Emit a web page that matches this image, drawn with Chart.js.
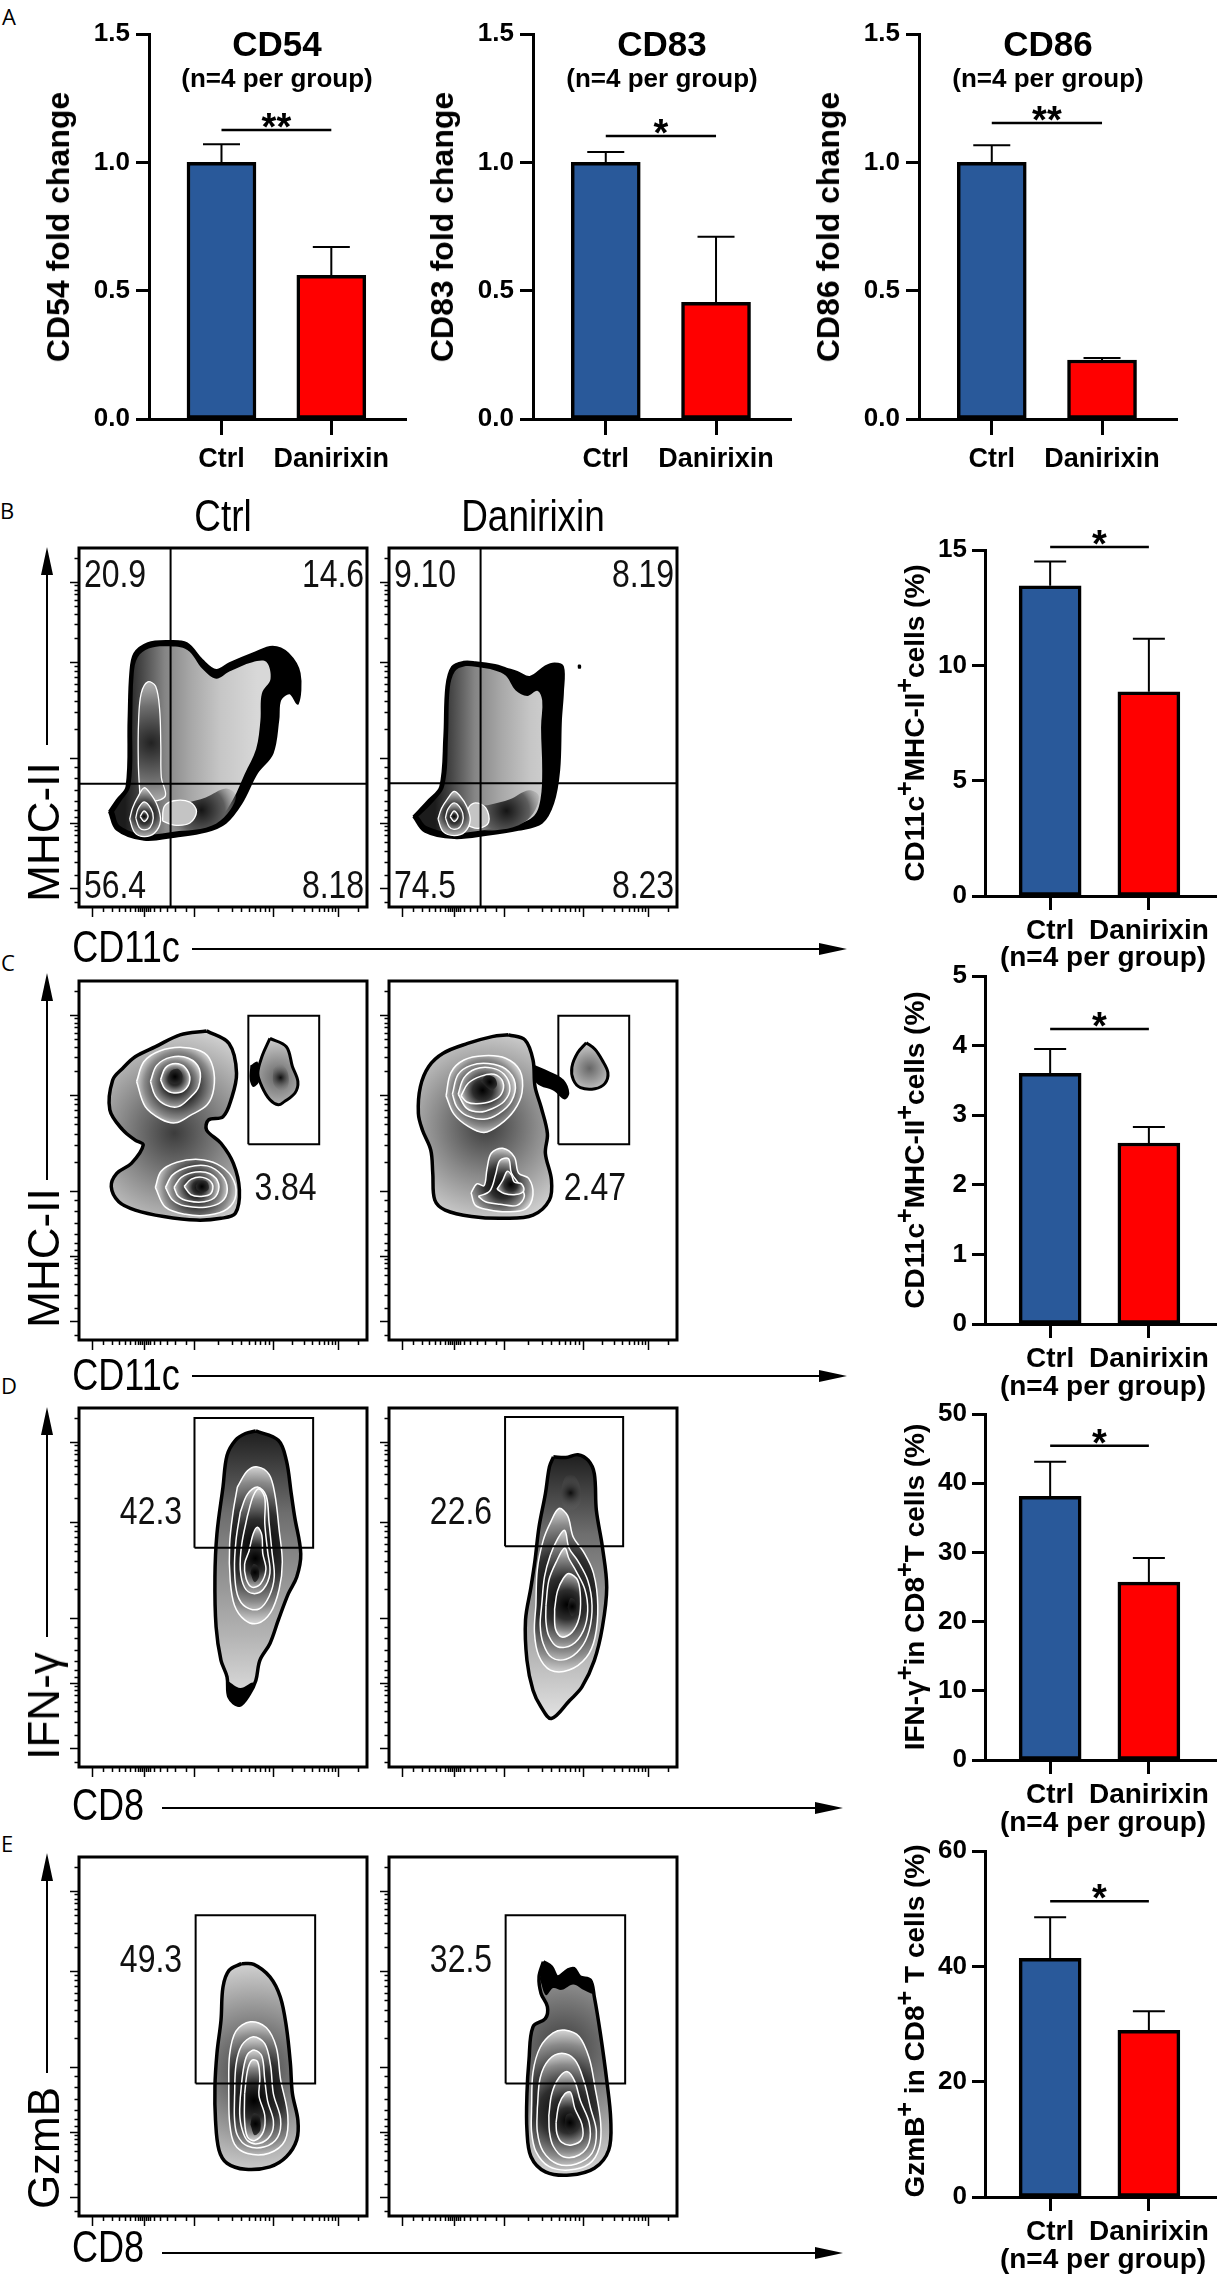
<!DOCTYPE html>
<html>
<head>
<meta charset="utf-8">
<title>Danirixin DC / CD8 panels</title>
<script src="https://cdn.jsdelivr.net/npm/chart.js@4.4.1/dist/chart.umd.min.js"></script>
<style>
  body { margin: 0; background: #fff; }
  #page { position: relative; width: 1219px; height: 2276px; overflow: hidden; background: #fff;
          font-family: "Liberation Sans", Arial, sans-serif; color: #000; }
  .box { position: absolute; }
  .t { position: absolute; white-space: nowrap; line-height: 1; }
  .t sup { font-size: 0.9em; line-height: 0; vertical-align: 0.42em; }
  .ln { position: absolute; background: #000; }
  .hd { position: absolute; width: 0; height: 0; }
</style>
</head>
<body>
<div id="page"></div>
<script>
/* ── bar chart values ── */
const groups = ['Ctrl', 'Danirixin'];

const cd54Mean = [1.00, 0.56];
const cd54Sem  = [0.07, 0.11];
const cd83Mean = [1.00, 0.455];
const cd83Sem  = [0.04, 0.255];
const cd86Mean = [1.00, 0.23];
const cd86Sem  = [0.067, 0.008];

const dcMean   = [13.45, 8.85];   // B: CD11c+MHC-II+ (%)
const dcSem    = [1.05, 2.3];
const dc2Mean  = [3.6, 2.6];      // C
const dc2Sem   = [0.35, 0.23];
const ifnMean  = [38.1, 25.7];    // D
const ifnSem   = [5.0, 3.5];
const gzmMean  = [41.4, 28.9];    // E
const gzmSem   = [7.1, 3.3];

const sigLevels = [1.126, 1.103, 1.153, 15.13, 4.24, 45.4, 51.3];
const sigStars  = ['**', '*', '**', '*', '*', '*', '*'];

const foldTicks = [0, 0.5, 1.0, 1.5];
const foldTickLabels = ['0.0', '0.5', '1.0', '1.5'];
const dcTicks  = [0, 5, 10, 15];
const dc2Ticks = [0, 1, 2, 3, 4, 5];
const ifnTicks = [0, 10, 20, 30, 40, 50];
const gzmTicks = [0, 20, 40, 60];

/* ── flow plot gate percentages ── */
const bCtrlPct = ['20.9', '14.6', '56.4', '8.18'];
const bDanPct  = ['9.10', '8.19', '74.5', '8.23'];
const cPct = ['3.84', '2.47'];
const dPct = ['42.3', '22.6'];
const ePct = ['49.3', '32.5'];

/* gates in plot units (0-100): quadrant [x, y], rectangles [x0, y0, x1, y1] */
const bCtrlQuad = [31.8, 34.3];
const bDanQuad  = [31.8, 34.5];
const cGate = [58.8, 54.5, 83.4, 90.3];
const dCtrlGate = [40.1, 61.1, 81.3, 97.2];
const dDanGate  = [40.3, 61.5, 81.3, 97.5];
const eGate = [40.5, 36.9, 82.0, 83.8];

/* axis tick positions of the biexponential flow axes (plot units) */
const flowMajorY = [5.2, 23.4, 41.5, 68.2, 90.6];
const flowMinorY = [1.5, 9, 12.5, 15.5, 18, 20, 21.5, 22.5, 25, 27, 29.5, 32.5, 36, 39,
  49.5, 54.2, 57.5, 60.1, 62.2, 64.0, 65.6, 67.0, 75.0, 78.9, 81.7, 83.8, 85.6, 87.1, 88.4, 89.6, 97.3];
const flowMajorX = [4.6, 22.6, 40.1, 67.2, 90.1];
const flowMinorX = [8.5, 11.5, 14, 16, 17.8, 19.3, 20.6, 21.2, 21.8, 23.2, 23.8, 24.6, 26, 28, 30.5, 33.5, 37,
  48.3, 53.0, 56.4, 59.0, 61.2, 63.0, 64.6, 66.0, 74.1, 78.1, 80.9, 83.2, 85.0, 86.5, 87.9, 89.0, 97.0];

/* ── density contours, flat [x, y, x, y ...] in plot units ── */
// B Ctrl
const bCtrlEdge = [10.4,26.6, 13.1,21.5, 22.6,18.7, 33.4,19.6, 44.2,21.0, 50.9,23.4, 56.4,28.9, 61.8,37.3, 67.2,42.8,
  69.2,52.1, 69.9,57.7, 73.2,59.5, 76.0,56.7, 76.6,65.1, 72.6,70.6, 67.2,72.5, 60.4,70.6, 52.3,67.9, 47.6,66.0,
  42.8,68.8, 37.4,73.5, 30.7,74.1, 23.9,73.5, 19.2,70.6, 17.8,65.1, 17.2,52.1, 16.5,33.5, 13.1,29.8];
const bCtrlBody = [12.2,26.5, 14.2,22.6, 22.6,20.2, 33.4,21.0, 43.5,22.4, 49.0,24.8, 53.5,30.0, 57.5,37.0, 61.5,44.0,
  63.0,52.0, 63.5,59.5, 66.5,63.5, 65.0,68.3, 60.2,68.2, 52.2,65.6, 47.6,63.6, 43.0,66.2, 37.6,71.6, 30.7,72.6,
  24.2,72.0, 20.4,69.6, 19.0,65.0, 18.5,52.0, 17.9,34.0, 14.2,29.0];
const bCtrlLow = [29.5,21.5, 38.0,21.3, 46.0,22.6, 51.5,26.0, 54.5,31.0, 51.0,33.0, 44.0,30.5, 37.0,29.0, 31.0,28.0];
const bCtrlFinger = [21.2,30.5, 20.6,40.0, 20.7,52.0, 21.6,59.5, 23.9,62.7, 26.6,61.5, 28.0,55.0, 28.4,45.0, 28.6,36.0, 30.0,31.0, 26.0,29.5];
const bCtrlBump = [29.0,24.0, 33.0,22.8, 38.5,23.4, 40.8,26.6, 38.5,29.2, 33.0,29.6, 29.6,28.0];
const bCtrlRings = [
  [17.6,24.5, 19.3,20.8, 22.6,19.6, 26.2,20.6, 28.3,24.0, 27.2,28.3, 24.6,31.8, 22.6,33.2, 20.4,30.6, 18.6,27.6],
  [19.7,24.8, 20.9,22.2, 22.6,21.5, 24.7,22.2, 25.8,24.8, 25.0,27.4, 22.6,29.3, 20.5,27.3],
  [21.2,25.2, 22.6,23.8, 24.0,25.2, 22.6,26.8]
];
// B Danirixin
const bDanEdge = [8.4,25.2, 12.4,21.0, 22.6,19.2, 34.1,20.1, 44.9,21.5, 53.0,23.4, 57.0,28.9, 59.1,38.2, 59.7,52.1,
  60.4,60.0, 60.4,66.9, 57.5,67.8, 54.3,67.0, 48.9,64.1, 44.5,65.5, 40.8,66.4, 36.8,67.4, 30.0,68.2, 25.9,68.3,
  21.9,66.9, 19.9,61.4, 19.2,47.5, 17.8,33.6, 13.8,29.8];
const bDanBody = [10.2,25.2, 13.3,22.4, 22.6,20.6, 34.1,21.6, 44.4,23.0, 50.4,25.4, 52.6,30.0, 53.2,38.0, 52.8,50.0,
  53.2,57.5, 51.6,60.2, 48.0,58.8, 44.0,60.3, 40.6,64.4, 36.8,65.9, 30.0,66.9, 26.0,67.0, 22.9,65.7, 21.1,61.0,
  20.5,47.5, 19.2,33.8, 14.6,28.6];
const bDanLow = [28.0,21.5, 37.0,21.4, 45.0,22.8, 50.0,26.0, 52.0,31.0, 48.5,32.5, 42.0,30.0, 35.0,28.5, 29.5,27.5];
const bDanBump = [27.6,22.6, 31.0,21.9, 34.6,23.6, 33.6,27.6, 30.0,29.0, 27.6,27.5];
const bDanRings = [
  [17.0,24.5, 18.8,21.0, 22.6,19.9, 26.3,20.9, 28.2,24.2, 27.0,28.0, 24.6,31.0, 22.6,32.2, 20.2,30.0, 18.2,27.4],
  [19.6,24.8, 20.9,22.3, 22.6,21.6, 24.7,22.3, 25.8,24.8, 25.0,27.3, 22.6,29.0, 20.4,27.2],
  [21.2,25.2, 22.6,23.8, 24.0,25.2, 22.6,26.8]
];
const bDanDot = [65.6,66.4, 66.6,66.4, 66.6,67.4, 65.6,67.4];
// C Ctrl
const cCtrlEdge = [44.3,86.1, 52.1,82.6, 54.7,74.3, 52.8,66.9, 50.0,62.2, 45.0,61.3, 44.3,58.5, 49.3,54.8, 53.6,49.2,
  55.7,41.8, 54.3,35.3, 49.3,33.9, 40.8,33.4, 29.4,34.4, 19.5,36.2, 13.8,38.5, 11.2,42.7, 13.1,46.4, 18.2,49.2,
  22.3,54.3, 19.5,55.7, 15.2,58.5, 10.7,64.1, 11.7,72.4, 15.2,75.7, 19.5,78.9, 26.6,81.7, 35.1,85.0];
const cCtrlUpper = [
  [20.0,72.0, 22.5,77.5, 28.0,80.5, 36.0,81.5, 43.5,80.0, 46.5,76.0, 46.8,70.0, 44.5,65.5, 38.5,62.5, 33.5,60.5, 28.5,61.5, 23.0,65.0],
  [24.8,72.0, 27.0,76.5, 32.0,78.8, 38.0,78.5, 41.8,75.5, 41.5,70.5, 38.5,67.5, 34.5,65.0, 30.0,65.5, 26.5,68.0],
  [28.3,72.5, 30.0,75.8, 33.5,77.0, 37.0,75.8, 38.5,72.5, 36.5,69.5, 33.0,68.8, 29.8,70.0]
];
const cCtrlUpperCore = [31.0,73.0, 32.0,75.0, 34.5,75.5, 36.0,73.5, 34.5,71.5, 32.0,71.5];
const cCtrlLower = [
  [26.5,42.5, 28.5,47.0, 34.0,49.5, 41.5,50.3, 48.0,49.0, 53.0,45.5, 54.5,40.5, 51.5,36.5, 45.0,34.8, 37.0,35.0, 30.0,37.0],
  [30.0,42.5, 32.5,46.0, 38.0,48.2, 44.5,48.5, 49.5,46.0, 51.5,42.0, 49.5,38.5, 44.0,37.0, 37.0,37.3, 32.5,39.0],
  [33.0,42.5, 35.5,45.3, 40.5,46.8, 45.5,46.3, 48.5,43.5, 47.5,40.0, 43.5,38.5, 38.0,38.7, 34.5,40.0],
  [36.5,42.8, 39.0,44.8, 43.0,45.3, 46.3,43.5, 45.8,40.8, 42.5,40.0, 38.8,40.5]
];
const cCtrlLowerCore = [40.5,43.0, 42.0,44.3, 44.5,44.0, 45.0,42.0, 43.0,41.2, 41.0,41.8];
const cCtrlGateBlob = [66.3,84.0, 72.0,81.7, 74.1,76.2, 76.0,72.0, 75.0,68.8, 71.3,66.4, 69.2,65.5, 66.3,66.9, 63.5,70.6, 62.1,74.3, 63.5,78.9];
const cCtrlGateCore = [67.5,75.5, 70.0,77.0, 72.5,74.5, 72.5,70.5, 70.0,69.5, 67.5,71.5];
const cCtrlTail = [59.5,76.5, 62.0,77.5, 62.5,72.0, 60.5,70.5, 59.3,72.5];
// C Danirixin
const cDanEdge = [41.5,85.0, 47.2,83.6, 50.0,78.0, 50.7,70.6, 52.8,64.9, 55.0,57.5, 54.3,52.0, 56.4,44.6, 55.7,39.0,
  50.0,34.8, 40.1,33.9, 28.7,34.4, 19.5,36.2, 15.9,39.0, 15.2,46.4, 14.5,52.9, 11.6,58.5, 10.2,63.1, 10.9,70.6,
  13.8,76.2, 18.8,79.9, 27.3,82.6, 35.8,84.5];
const cDanStreak = [50.7,76.5, 55.7,74.8, 60.7,72.5, 62.6,68.8, 61.0,67.0, 57.0,69.5, 52.5,70.8, 50.5,72.5];
const cDanUpper = [
  [19.8,68.0, 21.5,74.5, 26.0,78.0, 33.0,79.2, 40.5,78.5, 45.5,75.0, 46.2,69.0, 43.5,64.0, 38.5,60.0, 33.0,57.8, 27.5,59.5, 22.5,63.0],
  [22.0,68.5, 24.0,74.0, 28.5,76.5, 34.5,77.0, 40.5,75.5, 43.8,71.5, 42.5,66.5, 38.0,63.0, 33.0,61.5, 27.0,62.5, 23.5,65.0],
  [24.0,68.5, 26.0,73.0, 30.0,75.5, 35.5,75.8, 40.0,74.0, 42.0,70.0, 40.0,66.5, 36.0,64.5, 31.5,63.5, 27.0,64.5],
  [25.0,68.0, 27.5,71.5, 32.0,73.5, 36.5,74.0, 39.5,72.0, 39.0,68.5, 35.5,66.5, 30.5,65.8, 27.0,66.3]
];
const cDanUpperCore = [32.0,72.0, 33.5,73.6, 36.5,73.2, 37.5,71.0, 35.5,69.6];
const cDanLower = [
  [28.5,41.0, 30.5,43.5, 33.0,43.0, 34.0,47.5, 35.5,52.0, 39.5,53.4, 43.5,51.0, 45.0,46.5, 48.5,45.0, 50.0,40.5, 47.5,36.5, 41.0,35.7, 34.5,36.3, 30.0,37.5],
  [31.0,40.0, 35.0,41.5, 37.0,46.0, 38.5,50.0, 41.5,50.5, 42.5,46.5, 45.5,43.0, 47.0,40.0, 44.5,37.5, 38.5,37.8, 33.5,38.5],
  [37.5,42.0, 39.5,44.5, 41.0,47.0, 42.5,46.0, 43.5,44.0, 46.0,43.5, 46.8,41.5, 44.0,40.5, 40.0,40.8]
];
const cDanGateBlob = [68.5,82.8, 71.5,81.0, 74.0,78.0, 76.0,74.5, 75.0,71.5, 71.5,70.0, 66.5,70.3, 64.0,72.5, 63.5,76.0, 65.5,80.0];
// D Ctrl
const dCtrlEdge = [61.4,93.6, 69.2,91.0, 72.0,85.4, 73.7,76.1, 74.9,69.6, 77.0,59.4, 75.6,52.9, 72.7,48.3, 69.2,40.9,
  66.3,34.4, 62.8,29.7, 61.4,24.1, 59.2,20.4, 55.7,17.2, 52.1,19.5, 51.4,25.1, 49.3,29.7, 47.6,39.0, 47.2,52.9,
  47.9,65.0, 50.0,78.0, 51.4,86.8, 54.3,91.0, 57.8,92.9];
const dCtrlTail = [51.6,24.0, 56.0,22.0, 60.4,23.5, 59.2,20.4, 55.7,16.8, 52.0,19.3];
const dCtrlRings = [
  [55.0,78.0, 58.5,82.5, 62.0,83.6, 66.0,81.5, 68.0,76.0, 69.5,66.0, 70.6,57.0, 69.5,49.5, 66.5,43.0, 62.0,40.0, 57.5,41.0, 54.0,45.0, 52.5,52.0, 52.3,62.0, 53.5,71.0],
  [56.0,71.0, 58.5,76.0, 62.0,78.0, 65.0,75.5, 66.0,68.0, 67.0,60.0, 67.8,53.0, 66.0,47.5, 62.5,44.0, 58.0,44.5, 55.0,48.0, 54.0,55.0, 54.5,63.0],
  [58.5,70.0, 60.5,75.5, 62.5,77.5, 64.5,75.0, 64.5,68.0, 65.5,60.0, 66.3,54.0, 64.0,49.5, 60.5,48.3, 57.5,50.0, 56.0,55.0, 56.5,62.0],
  [59.0,60.0, 60.5,65.0, 62.0,66.8, 63.5,64.5, 63.8,59.5, 64.9,55.0, 63.0,51.0, 60.0,50.1, 58.0,52.5, 57.5,56.5]
];
const dCtrlCore = [59.5,54.0, 60.5,56.5, 62.0,56.0, 62.5,53.0, 61.0,51.5];
// D Danirixin
const dDanEdge = [57.1,86.4, 61.4,86.2, 65.6,87.0, 69.2,85.4, 71.3,81.7, 72.0,71.5, 74.1,61.3, 75.6,50.1, 74.1,39.0,
  71.3,29.7, 67.0,22.3, 62.8,18.6, 56.4,13.5, 52.8,16.7, 50.0,21.4, 47.9,29.7, 47.4,40.9, 49.3,50.1, 50.7,57.6,
  52.1,66.9, 54.3,76.1, 55.7,83.6];
const dDanSpot = [59.5,76.0, 61.0,80.5, 63.5,81.5, 66.0,79.0, 66.5,74.0, 64.0,71.5, 61.0,72.0];
const dDanRings = [
  [51.0,45.0, 51.5,55.0, 53.5,63.0, 56.0,68.0, 59.0,72.0, 62.0,70.0, 64.0,64.0, 67.5,60.0, 71.0,54.0, 72.5,45.0, 71.5,36.0, 68.5,30.5, 62.5,27.0, 56.0,27.0, 52.0,31.0, 50.5,37.5],
  [53.0,45.0, 54.0,53.0, 56.0,59.0, 58.5,63.5, 61.0,65.9, 62.5,61.0, 65.5,57.5, 69.0,52.0, 70.5,45.0, 69.5,38.0, 66.5,33.0, 61.5,30.0, 56.5,30.5, 53.5,34.5, 52.5,39.5],
  [54.5,45.0, 55.5,52.0, 58.0,57.0, 61.0,61.0, 62.5,58.0, 65.0,54.5, 68.0,49.5, 69.0,43.5, 67.5,38.0, 63.5,34.0, 58.5,33.5, 55.5,36.5, 54.5,40.5],
  [57.5,44.0, 58.5,49.0, 60.5,52.5, 62.5,53.9, 65.5,52.0, 66.5,47.0, 66.0,41.5, 63.5,37.5, 60.0,36.2, 57.8,38.5]
];
const dDanCore = [62.0,44.5, 63.0,47.0, 64.5,46.5, 65.0,43.5, 63.5,42.0];
// E Ctrl
const eCtrlEdge = [56.4,70.3, 60.7,70.1, 66.3,66.6, 69.9,61.0, 72.0,52.7, 73.4,42.5, 74.1,34.1, 76.0,26.7, 75.6,21.2,
  72.0,16.5, 66.3,13.7, 57.8,13.0, 51.4,14.7, 48.6,18.4, 47.4,26.7, 47.2,36.0, 47.9,45.3, 49.3,54.5, 50.0,63.8, 52.1,68.4];
const eCtrlRings = [
  [52.0,35.0, 52.3,45.0, 54.5,51.5, 59.5,54.1, 65.0,52.5, 68.5,47.0, 70.0,38.0, 72.5,28.0, 71.5,21.0, 66.0,17.5, 58.5,17.4, 54.0,20.0, 52.3,26.0],
  [54.0,33.0, 54.5,42.0, 56.5,47.5, 60.5,49.9, 64.5,48.0, 66.5,42.0, 67.5,34.0, 70.0,27.0, 69.0,22.0, 64.5,19.3, 58.5,19.5, 55.0,22.5, 54.0,27.0],
  [56.0,33.0, 57.0,40.5, 58.5,45.0, 61.0,46.2, 63.5,44.5, 64.5,38.0, 65.5,32.0, 67.5,26.5, 66.5,22.5, 62.5,20.2, 58.5,21.0, 56.5,24.5, 55.8,28.5],
  [57.5,34.0, 58.5,40.5, 60.0,43.4, 62.0,43.0, 62.8,38.5, 62.5,33.5, 64.5,28.0, 64.0,23.5, 61.0,21.0, 58.5,22.0, 57.5,26.5]
];
const eCtrlCore = [59.5,25.5, 60.5,28.5, 62.5,28.0, 63.0,24.0, 61.0,22.5];
// E Danirixin
const eDanEdge = [53.6,70.8, 56.4,69.4, 58.5,66.6, 62.1,68.5, 64.2,68.9, 66.3,66.6, 69.9,65.7, 71.3,61.0, 73.4,50.8,
  75.6,37.8, 77.0,26.7, 76.3,18.4, 71.3,13.3, 62.8,11.4, 54.3,12.3, 49.3,16.5, 47.9,23.9, 47.9,34.1, 48.6,43.4,
  50.0,52.7, 54.3,55.0, 55.0,58.3, 52.8,62.0, 52.1,66.6];
const eDanCap = [52.4,66.0, 53.6,70.8, 56.4,69.4, 58.5,66.6, 62.1,68.5, 64.2,68.9, 66.3,66.6, 69.9,65.7, 71.0,62.0,
  68.0,62.8, 64.0,64.5, 60.0,63.0, 57.0,63.5, 54.5,61.5];
const eDanRings = [
  [49.5,30.0, 50.0,40.0, 52.5,47.0, 57.0,51.0, 61.0,51.8, 66.0,50.0, 69.5,44.0, 71.5,36.0, 73.5,26.0, 73.0,19.0, 69.5,14.5, 62.5,12.8, 55.5,13.8, 51.0,18.0, 49.5,23.5],
  [51.5,30.0, 52.5,38.5, 55.5,43.5, 60.0,45.3, 64.5,43.5, 67.5,38.0, 70.0,30.0, 72.0,23.5, 70.5,17.5, 65.0,14.5, 58.5,14.5, 53.5,18.0, 51.5,23.5],
  [55.5,28.0, 56.5,34.0, 59.0,38.5, 62.0,40.2, 64.5,37.5, 66.5,32.0, 69.5,26.0, 69.5,20.5, 66.0,17.0, 60.5,16.5, 57.0,19.5, 55.7,23.5],
  [58.0,26.0, 59.0,31.0, 61.0,34.0, 63.0,34.5, 64.5,30.0, 67.0,25.5, 67.0,21.5, 63.5,19.8, 60.0,20.5, 58.3,23.0]
];
const eDanCore = [61.0,25.0, 61.5,28.0, 63.5,28.5, 65.0,25.5, 63.0,23.0];

/* ── page helpers ── */
const page = document.getElementById('page');
const FONT = '"Liberation Sans", Arial, sans-serif';
const BLUE = '#29599a';
const RED = '#ff0000';

function label(html, cx, cy, font, opt) {
  const d = document.createElement('div');
  d.className = 't';
  d.innerHTML = html;
  d.style.font = font;
  d.style.left = cx + 'px';
  d.style.top = cy + 'px';
  let tf = 'translate(-50%,-50%)';
  if (opt && opt.rot) tf += ' rotate(-90deg)';
  if (opt && opt.narrow) tf += ' scaleX(0.82)';
  d.style.transform = tf;
  page.appendChild(d);
}

function rule(left, top, w, h) {
  const d = document.createElement('div');
  d.className = 'ln';
  d.style.cssText = `left:${left}px;top:${top}px;width:${w}px;height:${h}px`;
  page.appendChild(d);
}

function arrowUp(x, yTail, yTip) {
  rule(x - 1, yTip + 22, 2, yTail - yTip - 22);
  const h = document.createElement('div');
  h.className = 'hd';
  h.style.cssText = `left:${x - 6}px;top:${yTip}px;border-left:6px solid transparent;border-right:6px solid transparent;border-bottom:28px solid #000`;
  page.appendChild(h);
}

function arrowRight(y, xTail, xTip) {
  rule(xTail, y - 1, xTip - xTail - 22, 2);
  const h = document.createElement('div');
  h.className = 'hd';
  h.style.cssText = `left:${xTip - 28}px;top:${y - 6}px;border-top:6px solid transparent;border-bottom:6px solid transparent;border-left:28px solid #000`;
  page.appendChild(h);
}

function holder(left, top, w, h) {
  const d = document.createElement('div');
  d.className = 'box';
  d.style.cssText = `position:absolute;left:${left}px;top:${top}px;width:${w}px;height:${h}px`;
  const c = document.createElement('canvas');
  d.appendChild(c);
  page.appendChild(d);
  return c;
}

/* ── bar charts ── */
function makeBarExtras(s) {
  return {
    id: 'barExtras',
    afterDatasetsDraw(chart) {
      const ctx = chart.ctx, x = chart.scales.x, y = chart.scales.y;
      ctx.save();
      ctx.strokeStyle = '#000';
      ctx.lineWidth = 2;
      s.mean.forEach((m, i) => {
        const px = x.getPixelForValue(i);
        const yBar = y.getPixelForValue(m);
        const yTop = y.getPixelForValue(m + s.sem[i]);
        ctx.beginPath();
        ctx.moveTo(px, yBar);
        ctx.lineTo(px, yTop);
        ctx.moveTo(px - s.cap / 2, yTop);
        ctx.lineTo(px + s.cap / 2, yTop);
        ctx.stroke();
      });
      const x0 = x.getPixelForValue(0), x1 = x.getPixelForValue(1);
      const sy = y.getPixelForValue(s.sig);
      ctx.lineWidth = 2.5;
      ctx.beginPath();
      ctx.moveTo(x0, sy);
      ctx.lineTo(x1, sy);
      ctx.stroke();
      ctx.fillStyle = '#000';
      ctx.font = 'bold 38px ' + FONT;
      ctx.textAlign = 'center';
      ctx.textBaseline = 'alphabetic';
      ctx.fillText(s.stars, (x0 + x1) / 2, sy + 10);
      ctx.restore();
    }
  };
}

function barChart(s) {
  const padL = 100, padT = 40, padR = 12, padB = 80;
  const w = s.right - s.left, h = s.bottom - s.top;
  const cv = holder(s.left - padL, s.top - padT, w + padL + padR, h + padT + padB);
  new Chart(cv, {
    type: 'bar',
    data: {
      datasets: [{
        data: s.mean.map((v, i) => ({ x: i, y: v })),
        backgroundColor: [BLUE, RED],
        borderColor: '#000',
        borderWidth: 3.5,
        borderSkipped: false,
        barThickness: s.barW
      }]
    },
    options: {
      responsive: true,
      maintainAspectRatio: false,
      animation: false,
      events: [],
      layout: { padding: { top: padT, right: padR, left: 0, bottom: 0 } },
      plugins: { legend: { display: false }, tooltip: { enabled: false } },
      scales: {
        x: {
          type: 'linear', min: -0.66, max: 1.68, offset: false,
          afterBuildTicks: sc => { sc.ticks = groups.map((g, i) => ({ value: i })); },
          afterFit: sc => { sc.height = padB; },
          ticks: {
            callback: (v, i) => groups[i], color: '#000', padding: s.xPad,
            maxRotation: 0, autoSkip: false,
            font: { family: FONT, weight: 'bold', size: s.xFont }
          },
          grid: { drawOnChartArea: false, offset: false, tickLength: s.xTick, tickWidth: 3, tickColor: '#000' },
          border: { display: true, color: '#000', width: 3 }
        },
        y: {
          min: 0, max: s.ticks[s.ticks.length - 1],
          afterBuildTicks: sc => { sc.ticks = s.ticks.map(v => ({ value: v })); },
          afterFit: sc => { sc.width = padL; },
          ticks: {
            callback: (v, i) => s.labels[i], color: '#000', padding: s.yPad,
            font: { family: FONT, weight: 'bold', size: 26 }
          },
          grid: { drawOnChartArea: false, tickLength: 13, tickWidth: 3, tickColor: '#000' },
          border: { display: true, color: '#000', width: 3 }
        }
      }
    },
    plugins: [makeBarExtras(s)]
  });
}

const rowA = { top: 34, bottom: 419, barW: 69, cap: 37, xTick: 16, xPad: 8, xFont: 27, yPad: 6,
  ticks: foldTicks, labels: foldTickLabels };
barChart(Object.assign({}, rowA, { left: 149, right: 406, mean: cd54Mean, sem: cd54Sem, sig: sigLevels[0], stars: sigStars[0] }));
barChart(Object.assign({}, rowA, { left: 533, right: 791, mean: cd83Mean, sem: cd83Sem, sig: sigLevels[1], stars: sigStars[1] }));
barChart(Object.assign({}, rowA, { left: 919, right: 1177, mean: cd86Mean, sem: cd86Sem, sig: sigLevels[2], stars: sigStars[2] }));

const side = { left: 985, right: 1216, barW: 62, cap: 32, xTick: 14, xPad: 4, xFont: 28, yPad: 5 };
barChart(Object.assign({}, side, { top: 550, bottom: 896, mean: dcMean, sem: dcSem, ticks: dcTicks, labels: dcTicks.map(String), sig: sigLevels[3], stars: sigStars[3] }));
barChart(Object.assign({}, side, { top: 976, bottom: 1324, mean: dc2Mean, sem: dc2Sem, ticks: dc2Ticks, labels: dc2Ticks.map(String), sig: sigLevels[4], stars: sigStars[4] }));
barChart(Object.assign({}, side, { top: 1414, bottom: 1760, mean: ifnMean, sem: ifnSem, ticks: ifnTicks, labels: ifnTicks.map(String), sig: sigLevels[5], stars: sigStars[5] }));
barChart(Object.assign({}, side, { top: 1851, bottom: 2197, mean: gzmMean, sem: gzmSem, ticks: gzmTicks, labels: gzmTicks.map(String), sig: sigLevels[6], stars: sigStars[6] }));

/* ── flow plots ── */
const FILLS = {
  edge:   '#000',
  black:  '#000',
  bump:   '#c4c4c4',
  body:   { type: 'linX', from: 16, to: 62, stops: [[0, '#1c1c1c'], [0.15, '#505050'], [0.3, '#858585'], [0.5, '#a8a8a8'], [0.72, '#c6c6c6'], [1, '#d8d8d8']] },
  low:    { type: 'radial', stops: [[0, '#141414'], [0.55, '#5e5e5e'], [1, 'rgba(170,170,170,0)']] },
  finger: { type: 'radial', stops: [[0, '#222'], [0.6, '#6e6e6e'], [1, '#b4b4b4']] },
  ring:   { type: 'radial', stops: [[0, '#000'], [0.45, '#3a3a3a'], [1, '#c8c8c8']] },
  outer:  { type: 'radial', stops: [[0, '#3c3c3c'], [0.5, '#8a8a8a'], [1, '#d2d2d2']] },
  outerD: { type: 'linY', stops: [[0, '#1e1e1e'], [0.3, '#6e6e6e'], [0.75, '#b4b4b4'], [1, '#e2e2e2']] },
  zone:   { type: 'radial', stops: [[0, '#000'], [0.45, '#2e2e2e'], [0.8, '#8a8a8a'], [1, '#d6d6d6']] },
  core:   { type: 'radial', stops: [[0, '#000'], [1, '#333']] },
  gblob:  { type: 'radial', stops: [[0, '#666'], [1, '#d0d0d0']] },
  spot:   { type: 'radial', stops: [[0, '#0c0c0c'], [1, 'rgba(120,120,120,0)']] }
};
const LINES = {
  edge: ['#000', 2], outer: ['#000', 3.5], outerD: ['#000', 3.5], gblob: ['#000', 3],
  finger: ['#fff', 1.3], bump: ['#fff', 1.3], ring: ['#fff', 1.3], zone: ['#fff', 1.5]
};

function ringPoints(flat) {
  const pts = [];
  for (let i = 0; i < flat.length; i += 2) pts.push({ x: flat[i], y: flat[i + 1] });
  pts.push({ x: flat[0], y: flat[1] });
  return pts;
}

function makeFill(kind, pts) {
  const f = FILLS[kind];
  if (typeof f === 'string') return f;
  let g = null;
  return (c) => {
    const ch = c.chart;
    if (!ch.chartArea) return '#999';
    if (g) return g;
    const sx = ch.scales.x, sy = ch.scales.y, ctx = ch.ctx;
    const open = pts.slice(0, -1);
    const px = open.map(p => sx.getPixelForValue(p.x));
    const py = open.map(p => sy.getPixelForValue(p.y));
    if (f.type === 'radial') {
      const cx = px.reduce((a, b) => a + b, 0) / px.length;
      const cy = py.reduce((a, b) => a + b, 0) / py.length;
      let r = 1;
      px.forEach((v, i) => { r = Math.max(r, Math.hypot(v - cx, py[i] - cy)); });
      g = ctx.createRadialGradient(cx, cy, 0, cx, cy, r);
    } else if (f.type === 'linX') {
      g = ctx.createLinearGradient(sx.getPixelForValue(f.from), 0, sx.getPixelForValue(f.to), 0);
    } else {
      g = ctx.createLinearGradient(0, Math.min(...py), 0, Math.max(...py));
    }
    f.stops.forEach(st => g.addColorStop(st[0], st[1]));
    return g;
  };
}

function makeFlowDeco(texts) {
  return {
    id: 'flowDeco',
    afterDraw(chart) {
      const ctx = chart.ctx, a = chart.chartArea, x = chart.scales.x, y = chart.scales.y;
      ctx.save();
      ctx.strokeStyle = '#000';
      ctx.lineWidth = 1.5;
      ctx.beginPath();
      const tickY = (v, len) => { const p = Math.round(y.getPixelForValue(v)) + 0.5; ctx.moveTo(a.left, p); ctx.lineTo(a.left - len, p); };
      const tickX = (v, len) => { const p = Math.round(x.getPixelForValue(v)) + 0.5; ctx.moveTo(p, a.bottom); ctx.lineTo(p, a.bottom + len); };
      flowMajorY.forEach(v => tickY(v, 9));
      flowMinorY.forEach(v => tickY(v, 4.5));
      flowMajorX.forEach(v => tickX(v, 10));
      flowMinorX.forEach(v => tickX(v, 5));
      ctx.stroke();
      ctx.lineWidth = 3;
      ctx.strokeRect(a.left, a.top, a.right - a.left, a.bottom - a.top);
      ctx.fillStyle = '#111';
      ctx.font = '39px ' + FONT;
      ctx.textBaseline = 'alphabetic';
      texts.forEach(t => {
        ctx.save();
        ctx.translate(x.getPixelForValue(t.x), y.getPixelForValue(t.y));
        ctx.scale(0.82, 1);
        ctx.textAlign = t.align;
        ctx.fillText(t.s, 0, 0);
        ctx.restore();
      });
      ctx.restore();
    }
  };
}

const FW = 288, FH = 359;
function flowPlot(left, top, layers, gates, texts) {
  const pL = 14, pT = 4, pR = 4, pB = 16;
  const cv = holder(left - pL, top - pT, FW + pL + pR, FH + pT + pB);
  const datasets = layers.map((L, k) => {
    const pts = ringPoints(L[0]);
    const ln = LINES[L[1]] || ['rgba(0,0,0,0)', 0];
    return {
      data: pts, fill: 'shape', backgroundColor: makeFill(L[1], pts),
      borderColor: ln[0], borderWidth: ln[1], pointRadius: 0, tension: 0.35, order: -k
    };
  });
  gates.forEach(seg => datasets.push({
    data: seg, fill: false, borderColor: '#000', borderWidth: 2, pointRadius: 0, tension: 0, order: -500
  }));
  new Chart(cv, {
    type: 'line',
    data: { datasets },
    options: {
      responsive: true,
      maintainAspectRatio: false,
      animation: false,
      events: [],
      layout: { padding: { left: pL, top: pT, right: pR, bottom: pB } },
      plugins: { legend: { display: false }, tooltip: { enabled: false } },
      scales: {
        x: { type: 'linear', min: 0, max: 100, display: false },
        y: { type: 'linear', min: 0, max: 100, display: false }
      }
    },
    plugins: [makeFlowDeco(texts)]
  });
}

function quadLines(q) {
  return [[{ x: q[0], y: 0 }, { x: q[0], y: 100 }], [{ x: 0, y: q[1] }, { x: 100, y: q[1] }]];
}
function gateBox(g) {
  return [[{ x: g[0], y: g[1] }, { x: g[2], y: g[1] }, { x: g[2], y: g[3] }, { x: g[0], y: g[3] }, { x: g[0], y: g[1] }]];
}
function quadText(p) {
  return [
    { s: p[0], x: 1.7, y: 89.1, align: 'left' }, { s: p[1], x: 99, y: 89.1, align: 'right' },
    { s: p[2], x: 1.7, y: 2.5, align: 'left' }, { s: p[3], x: 99, y: 2.5, align: 'right' }
  ];
}

const CX = 79, DX = 389;
// B
flowPlot(CX, 548, [[bCtrlEdge, 'edge'], [bCtrlBody, 'body'], [bCtrlLow, 'low'], [bCtrlFinger, 'finger'], [bCtrlBump, 'bump'],
  [bCtrlRings[0], 'ring'], [bCtrlRings[1], 'ring'], [bCtrlRings[2], 'ring']], quadLines(bCtrlQuad), quadText(bCtrlPct));
flowPlot(DX, 548, [[bDanEdge, 'edge'], [bDanBody, 'body'], [bDanLow, 'low'], [bDanBump, 'bump'],
  [bDanRings[0], 'ring'], [bDanRings[1], 'ring'], [bDanRings[2], 'ring'], [bDanDot, 'black']], quadLines(bDanQuad), quadText(bDanPct));
// C
flowPlot(CX, 981, [[cCtrlEdge, 'outer'], [cCtrlTail, 'black'],
  ...cCtrlUpper.map(r => [r, 'zone']), [cCtrlUpperCore, 'core'],
  ...cCtrlLower.map(r => [r, 'zone']), [cCtrlLowerCore, 'core'],
  [cCtrlGateBlob, 'gblob'], [cCtrlGateCore, 'spot']],
  gateBox(cGate), [{ s: cPct[0], x: 60.9, y: 39.0, align: 'left' }]);
flowPlot(DX, 981, [[cDanEdge, 'outer'], [cDanStreak, 'black'],
  ...cDanUpper.map(r => [r, 'zone']), [cDanUpperCore, 'core'],
  ...cDanLower.map(r => [r, 'zone']),
  [cDanGateBlob, 'gblob']],
  gateBox(cGate), [{ s: cPct[1], x: 60.7, y: 39.0, align: 'left' }]);
// D
flowPlot(CX, 1408, [[dCtrlEdge, 'outerD'], [dCtrlTail, 'black'], ...dCtrlRings.map(r => [r, 'zone']), [dCtrlCore, 'core']],
  gateBox(dCtrlGate), [{ s: dPct[0], x: 35.8, y: 67.8, align: 'right' }]);
flowPlot(DX, 1408, [[dDanEdge, 'outerD'], [dDanSpot, 'spot'], ...dDanRings.map(r => [r, 'zone']), [dDanCore, 'core']],
  gateBox(dDanGate), [{ s: dPct[1], x: 35.8, y: 67.8, align: 'right' }]);
// E
flowPlot(CX, 1857, [[eCtrlEdge, 'outer'], ...eCtrlRings.map(r => [r, 'zone']), [eCtrlCore, 'core']],
  gateBox(eGate), [{ s: ePct[0], x: 35.8, y: 68.0, align: 'right' }]);
flowPlot(DX, 1857, [[eDanEdge, 'outer'], [eDanCap, 'black'], ...eDanRings.map(r => [r, 'zone']), [eDanCore, 'core']],
  gateBox(eGate), [{ s: ePct[1], x: 35.8, y: 68.0, align: 'right' }]);

/* ── text labels ── */
const bold = (px) => `bold ${px}px/1 ${FONT}`;
const reg = (px) => `${px}px/1 ${FONT}`;
const letter = `22px/1 "Open Sans", ${FONT}`;

label('A', 9, 16, letter);
label('B', 7, 510, letter);
label('C', 8, 962, letter);
label('D', 9, 1385, letter);
label('E', 7, 1843, letter);

[['CD54', 277, 58], ['CD83', 662, 442], ['CD86', 1048, 828]].forEach(([name, cx, yx]) => {
  label(name, cx, 43, bold(35));
  label('(n=4 per group)', cx, 78, bold(26));
  label(name + ' fold change', yx, 227, bold(32), { rot: true });
});

label('CD11c<sup>+</sup>MHC-II<sup>+</sup>cells (%)', 915, 723, bold(28), { rot: true });
label('CD11c<sup>+</sup>MHC-II<sup>+</sup>cells (%)', 915, 1150, bold(28), { rot: true });
label('IFN-γ<sup>+</sup>in CD8<sup>+</sup>T cells (%)', 915, 1587, bold(28), { rot: true });
label('GzmB<sup>+</sup> in CD8<sup>+</sup> T cells (%)', 915, 2021, bold(28), { rot: true });
[957, 1386, 1822, 2259].forEach(y => label('(n=4 per group)', 1103, y, bold(28)));

label('Ctrl', 223, 515, reg(45), { narrow: true });
label('Danirixin', 533, 515, reg(45), { narrow: true });

label('MHC-II', 44, 832, reg(44), { rot: true });
arrowUp(47, 745, 547);
label('CD11c', 126, 947, reg(44), { narrow: true });
arrowRight(949, 192, 847);

label('MHC-II', 44, 1258, reg(44), { rot: true });
arrowUp(47, 1180, 973);
label('CD11c', 126, 1375, reg(44), { narrow: true });
arrowRight(1376, 192, 847);

label('IFN-γ', 44, 1706, reg(44), { rot: true });
arrowUp(47, 1637, 1407);
label('CD8', 108, 1805, reg(44), { narrow: true });
arrowRight(1808, 162, 843);

label('GzmB', 44, 2148, reg(44), { rot: true });
arrowUp(47, 2073, 1853);
label('CD8', 108, 2247, reg(44), { narrow: true });
arrowRight(2253, 162, 843);
</script>
</body>
</html>
